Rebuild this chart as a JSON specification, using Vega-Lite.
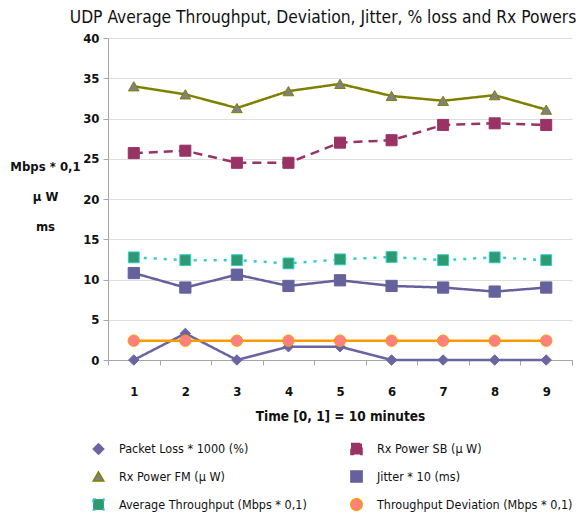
{
  "$schema": "https://vega.github.io/schema/vega-lite/v6.json",
  "autosize": "none",
  "width": 464,
  "height": 322,
  "padding": {"left": 108, "top": 38, "right": 16, "bottom": 160},
  "background": "white",
  "config": {
    "font": "DejaVu Sans Condensed",
    "view": {"stroke": null},
    "legend": {
      "title": null,
      "orient": "none",
      "legendX": -16,
      "legendY": 404,
      "columns": 2,
      "columnPadding": 40,
      "rowPadding": 9,
      "labelFontSize": 12.5,
      "labelColor": "#111111",
      "labelLimit": 300,
      "labelOffset": 14,
      "symbolOpacity": 1,
      "symbolStrokeWidth": 1.5
    }
  },
  "title": {
    "text": "UDP Average Throughput, Deviation, Jitter, % loss  and Rx Powers",
    "fontSize": 17.3,
    "fontWeight": "normal",
    "font": "DejaVu Sans Condensed",
    "color": "#111111",
    "anchor": "middle",
    "dx": -17,
    "offset": 6
  },
  "data": {
    "values": [
      {"series": "Packet Loss * 1000 (%)", "time": 1, "value": 0},
      {"series": "Packet Loss * 1000 (%)", "time": 2, "value": 3.3},
      {"series": "Packet Loss * 1000 (%)", "time": 3, "value": 0},
      {"series": "Packet Loss * 1000 (%)", "time": 4, "value": 1.65},
      {"series": "Packet Loss * 1000 (%)", "time": 5, "value": 1.65},
      {"series": "Packet Loss * 1000 (%)", "time": 6, "value": 0},
      {"series": "Packet Loss * 1000 (%)", "time": 7, "value": 0},
      {"series": "Packet Loss * 1000 (%)", "time": 8, "value": 0},
      {"series": "Packet Loss * 1000 (%)", "time": 9, "value": 0},
      {"series": "Rx Power SB (µ W)", "time": 1, "value": 25.7},
      {"series": "Rx Power SB (µ W)", "time": 2, "value": 26.0},
      {"series": "Rx Power SB (µ W)", "time": 3, "value": 24.5},
      {"series": "Rx Power SB (µ W)", "time": 4, "value": 24.5},
      {"series": "Rx Power SB (µ W)", "time": 5, "value": 27.0},
      {"series": "Rx Power SB (µ W)", "time": 6, "value": 27.3},
      {"series": "Rx Power SB (µ W)", "time": 7, "value": 29.2},
      {"series": "Rx Power SB (µ W)", "time": 8, "value": 29.4},
      {"series": "Rx Power SB (µ W)", "time": 9, "value": 29.2},
      {"series": "Rx Power FM (µ W)", "time": 1, "value": 34.0},
      {"series": "Rx Power FM (µ W)", "time": 2, "value": 33.0},
      {"series": "Rx Power FM (µ W)", "time": 3, "value": 31.3},
      {"series": "Rx Power FM (µ W)", "time": 4, "value": 33.4},
      {"series": "Rx Power FM (µ W)", "time": 5, "value": 34.3},
      {"series": "Rx Power FM (µ W)", "time": 6, "value": 32.8},
      {"series": "Rx Power FM (µ W)", "time": 7, "value": 32.2},
      {"series": "Rx Power FM (µ W)", "time": 8, "value": 32.9},
      {"series": "Rx Power FM (µ W)", "time": 9, "value": 31.1},
      {"series": "Jitter * 10 (ms)", "time": 1, "value": 10.8},
      {"series": "Jitter * 10 (ms)", "time": 2, "value": 9.0},
      {"series": "Jitter * 10 (ms)", "time": 3, "value": 10.6},
      {"series": "Jitter * 10 (ms)", "time": 4, "value": 9.2},
      {"series": "Jitter * 10 (ms)", "time": 5, "value": 9.9},
      {"series": "Jitter * 10 (ms)", "time": 6, "value": 9.2},
      {"series": "Jitter * 10 (ms)", "time": 7, "value": 9.0},
      {"series": "Jitter * 10 (ms)", "time": 8, "value": 8.5},
      {"series": "Jitter * 10 (ms)", "time": 9, "value": 9.0},
      {"series": "Average Throughput (Mbps * 0,1)", "time": 1, "value": 12.75},
      {"series": "Average Throughput (Mbps * 0,1)", "time": 2, "value": 12.4},
      {"series": "Average Throughput (Mbps * 0,1)", "time": 3, "value": 12.4},
      {"series": "Average Throughput (Mbps * 0,1)", "time": 4, "value": 12.0},
      {"series": "Average Throughput (Mbps * 0,1)", "time": 5, "value": 12.5},
      {"series": "Average Throughput (Mbps * 0,1)", "time": 6, "value": 12.8},
      {"series": "Average Throughput (Mbps * 0,1)", "time": 7, "value": 12.4},
      {"series": "Average Throughput (Mbps * 0,1)", "time": 8, "value": 12.75},
      {"series": "Average Throughput (Mbps * 0,1)", "time": 9, "value": 12.4},
      {"series": "Throughput Deviation (Mbps * 0,1)", "time": 1, "value": 2.4},
      {"series": "Throughput Deviation (Mbps * 0,1)", "time": 2, "value": 2.4},
      {"series": "Throughput Deviation (Mbps * 0,1)", "time": 3, "value": 2.4},
      {"series": "Throughput Deviation (Mbps * 0,1)", "time": 4, "value": 2.4},
      {"series": "Throughput Deviation (Mbps * 0,1)", "time": 5, "value": 2.4},
      {"series": "Throughput Deviation (Mbps * 0,1)", "time": 6, "value": 2.4},
      {"series": "Throughput Deviation (Mbps * 0,1)", "time": 7, "value": 2.4},
      {"series": "Throughput Deviation (Mbps * 0,1)", "time": 8, "value": 2.4},
      {"series": "Throughput Deviation (Mbps * 0,1)", "time": 9, "value": 2.4}
    ]
  },
  "encoding": {
    "x": {
      "field": "time",
      "type": "ordinal",
      "scale": {"paddingInner": 0, "paddingOuter": 0},
      "axis": {
        "title": "Time [0, 1] = 10 minutes",
        "titleFontSize": 13.5,
        "titleFontWeight": "bold",
        "titleColor": "#111111",
        "titleBaseline": "alphabetic",
        "titleY": 60,
        "labelAngle": 0,
        "labelFontSize": 13,
        "labelFontWeight": "bold",
        "labelColor": "#111111",
        "labelPadding": 20,
        "tickBand": "extent",
        "tickSize": 5,
        "tickColor": "#a6a6a6",
        "domainColor": "#a6a6a6",
        "grid": false
      }
    },
    "y": {
      "field": "value",
      "type": "quantitative",
      "scale": {"domain": [0, 40], "nice": false, "zero": true},
      "axis": {
        "values": [0, 5, 10, 15, 20, 25, 30, 35, 40],
        "title": ["Mbps  * 0,1", "µ W", "ms"],
        "titleAngle": 0,
        "titleAlign": "center",
        "titleBaseline": "alphabetic",
        "titleX": -63,
        "titleY": 132,
        "titleLineHeight": 30,
        "titleFontSize": 13,
        "titleFontWeight": "bold",
        "titleColor": "#111111",
        "labelFontSize": 13,
        "labelFontWeight": "bold",
        "labelColor": "#111111",
        "labelPadding": 4,
        "tickSize": 5,
        "tickColor": "#a6a6a6",
        "domainColor": "#a6a6a6",
        "gridColor": "#dedede",
        "gridWidth": 1.2
      }
    }
  },
  "layer": [
    {
      "mark": {"type": "line", "strokeWidth": 2.5},
      "encoding": {
        "stroke": {
          "field": "series",
          "type": "nominal",
          "scale": {
            "domain": ["Packet Loss * 1000 (%)", "Rx Power FM (µ W)", "Average Throughput (Mbps * 0,1)", "Rx Power SB (µ W)", "Jitter * 10 (ms)", "Throughput Deviation (Mbps * 0,1)"],
            "range": ["#6a65a2", "#808000", "#33cccc", "#993366", "#65619c", "#ff9900"]
          }
        },
        "strokeDash": {
          "field": "series",
          "type": "nominal",
          "scale": {
            "domain": ["Packet Loss * 1000 (%)", "Rx Power FM (µ W)", "Average Throughput (Mbps * 0,1)", "Rx Power SB (µ W)", "Jitter * 10 (ms)", "Throughput Deviation (Mbps * 0,1)"],
            "range": [[1, 0], [1, 0], [3, 7], [9, 6], [1, 0], [1, 0]]
          }
        }
      }
    },
    {
      "mark": {"type": "point", "filled": true, "opacity": 1, "strokeWidth": 1},
      "encoding": {
        "shape": {
          "field": "series",
          "type": "nominal",
          "scale": {
            "domain": ["Packet Loss * 1000 (%)", "Rx Power FM (µ W)", "Average Throughput (Mbps * 0,1)", "Rx Power SB (µ W)", "Jitter * 10 (ms)", "Throughput Deviation (Mbps * 0,1)"],
            "range": ["diamond", "triangle-up", "square", "square", "square", "circle"]
          }
        },
        "fill": {
          "field": "series",
          "type": "nominal",
          "scale": {
            "domain": ["Packet Loss * 1000 (%)", "Rx Power FM (µ W)", "Average Throughput (Mbps * 0,1)", "Rx Power SB (µ W)", "Jitter * 10 (ms)", "Throughput Deviation (Mbps * 0,1)"],
            "range": ["#6a65a2", "#808080", "#2e9a72", "#993366", "#65619c", "#ff8080"]
          }
        },
        "stroke": {
          "field": "series",
          "type": "nominal"
        },
        "size": {
          "field": "series",
          "type": "nominal",
          "scale": {
            "domain": ["Packet Loss * 1000 (%)", "Rx Power FM (µ W)", "Average Throughput (Mbps * 0,1)", "Rx Power SB (µ W)", "Jitter * 10 (ms)", "Throughput Deviation (Mbps * 0,1)"],
            "range": [110, 130, 170, 140, 190, 130]
          }
        }
      }
    }
  ]
}
